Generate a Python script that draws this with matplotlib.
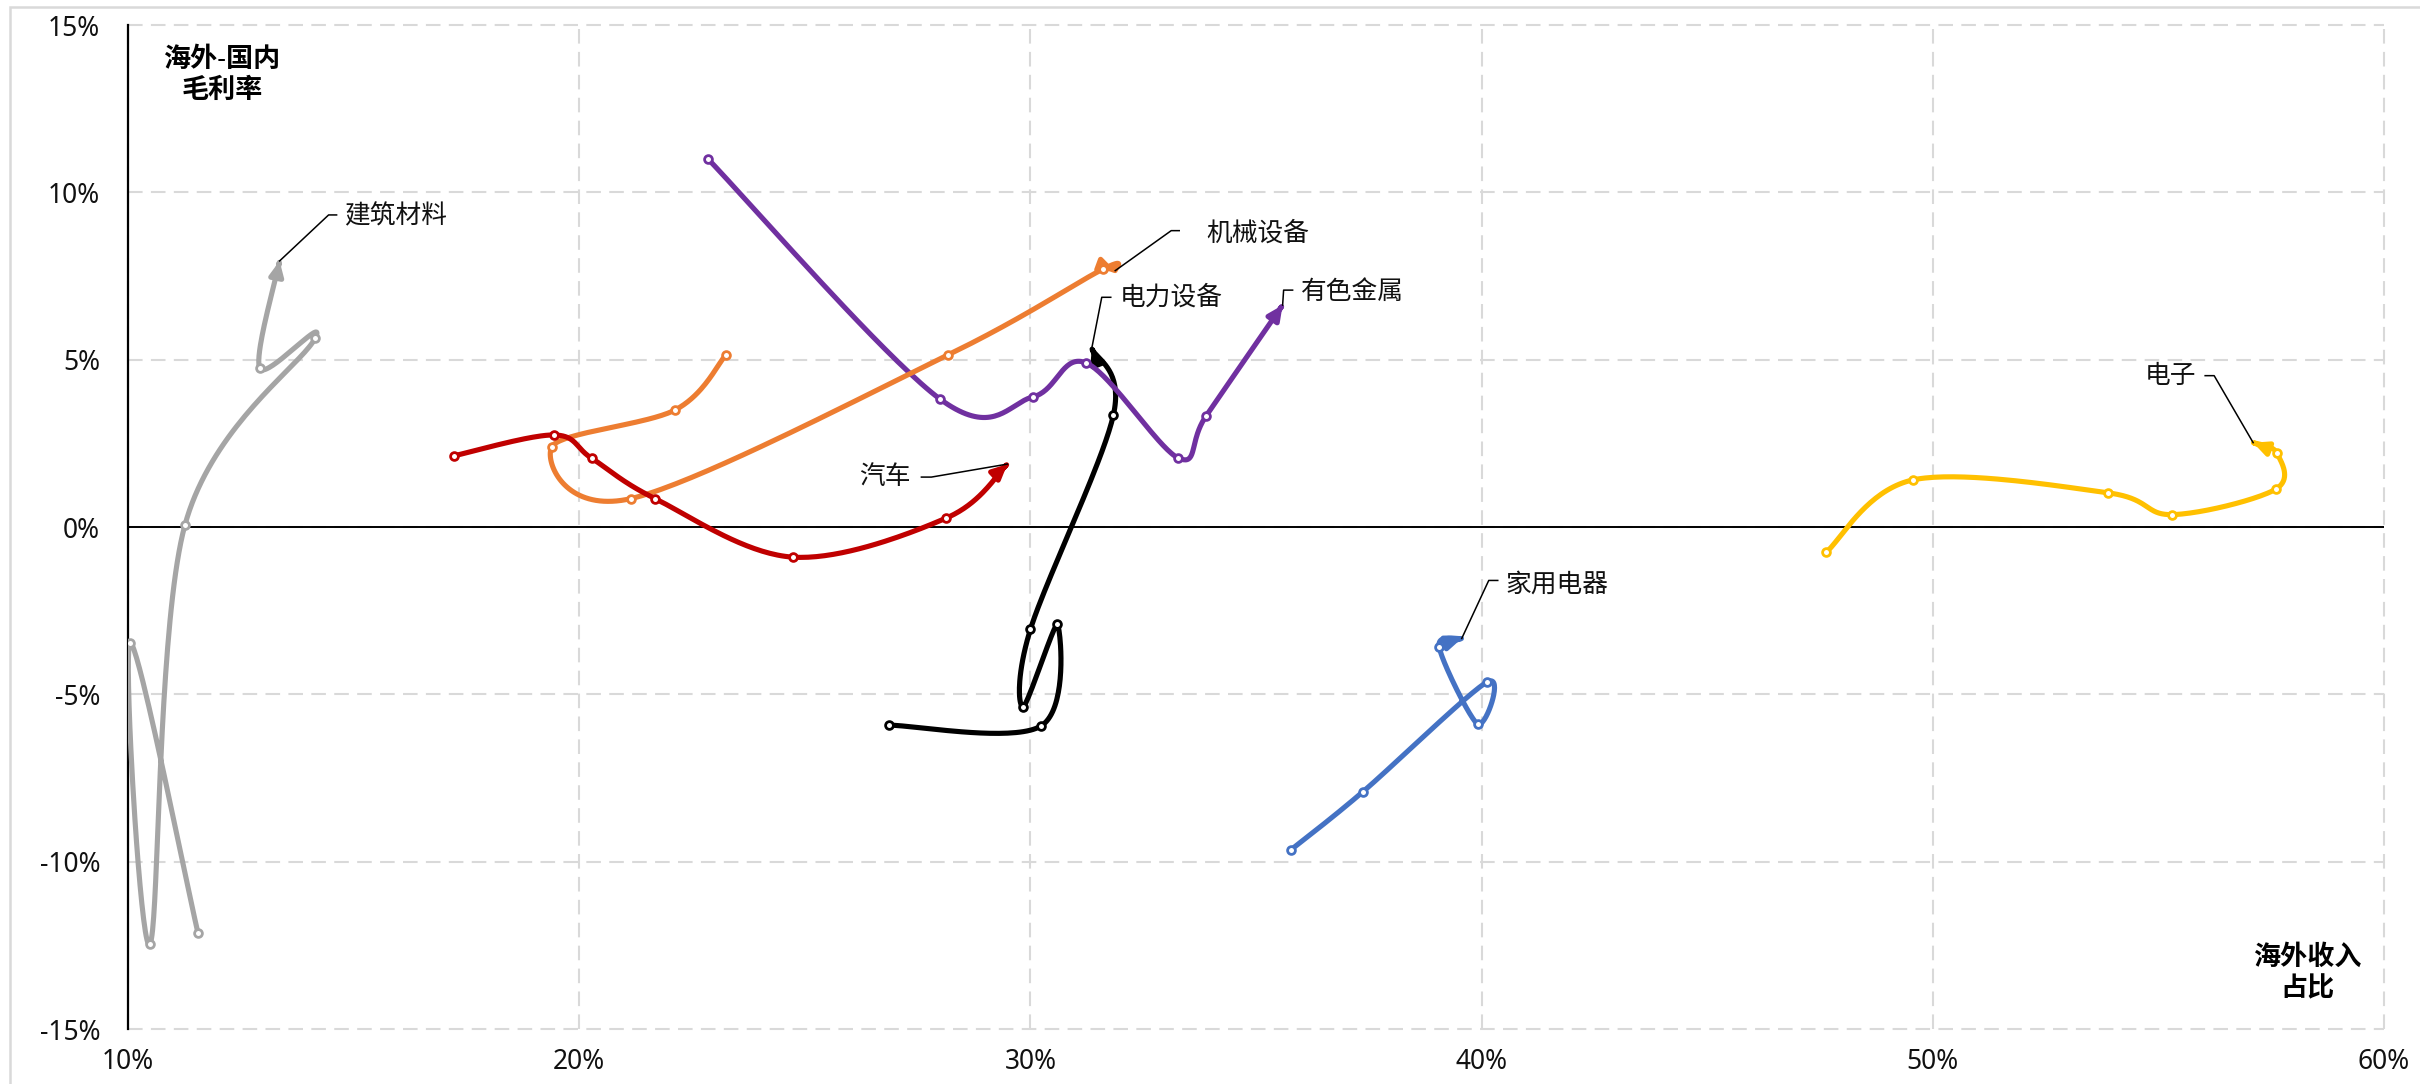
import numpy as np
import matplotlib
matplotlib.use("Agg")
import matplotlib.pyplot as plt
from matplotlib.path import Path
from matplotlib.patches import FancyArrowPatch, Rectangle
from matplotlib.lines import Line2D
from matplotlib.transforms import IdentityTransform

plt.rcParams['font.family'] = ['Noto Sans', 'Noto Sans CJK SC', 'DejaVu Sans']

# data: x = 海外收入占比 (%), y = 海外-国内毛利率 (%)
jzcl_x = [11.55, 10.05, 10.49, 11.26, 14.15, 12.92, 13.36]
jzcl_y = [-12.13, -3.46, -12.46, 0.05, 5.65, 4.74, 7.95]

dlsb_x = [26.87, 30.23, 30.60, 29.84, 30.00, 31.84, 31.36]
dlsb_y = [-5.92, -5.95, -2.91, -5.37, -3.06, 3.35, 5.34]

ysjs_x = [22.86, 28.00, 30.06, 31.24, 33.28, 33.89, 35.59]
ysjs_y = [10.99, 3.82, 3.89, 4.90, 2.06, 3.31, 6.63]

jxsb_x = [23.25, 22.13, 19.39, 21.15, 28.17, 31.60, 31.88]
jxsb_y = [5.14, 3.50, 2.39, 0.85, 5.14, 7.70, 7.66]

qc_x = [17.23, 19.44, 20.28, 21.68, 24.73, 28.14, 29.49]
qc_y = [2.13, 2.75, 2.05, 0.85, -0.90, 0.27, 1.88]

jydq_x = [35.77, 37.37, 40.11, 39.91, 39.06, 39.56]
jydq_y = [-9.65, -7.91, -4.64, -5.89, -3.59, -3.33]

dz_x = [47.64, 49.57, 53.89, 55.31, 57.60, 57.62, 57.10]
dz_y = [-0.75, 1.41, 1.02, 0.37, 1.13, 2.22, 2.52]

x_ticks = [10, 20, 30, 40, 50, 60]
y_ticks = [-15, -10, -5, 0, 5, 10, 15]

# name, x, y, colour, leader layout in px (elbow dx, elbow dy, end dx, text dx, text dy, ha)
series = [
    ('建筑材料', jzcl_x, jzcl_y, '#A5A5A5', (49, -46, 57, 64, -44, 'left')),
    ('电力设备', dlsb_x, dlsb_y, '#000000', (10, -51, 19, 28, -50, 'left')),
    ('有色金属', ysjs_x, ysjs_y, '#7030A0', (1, -15, 10, 18, -13, 'left')),
    ('机械设备', jxsb_x, jxsb_y, '#ED7D31', (56, -40, 64, 91, -37, 'left')),
    ('汽车', qc_x, qc_y, '#C00000', (-76, 13, -86, -97, 13, 'right')),
    ('家用电器', jydq_x, jydq_y, '#4472C4', (27, -58, 36, 44, -53, 'left')),
    ('电子', dz_x, dz_y, '#FFC000', (-39, -67, -48, -57, -66, 'right')),
]


def smooth(x, y, n=40):
    # catmull-rom style bezier through the points (like excel smoothed lines)
    p = np.column_stack([x, y]).astype(float)
    ext = np.vstack([p[0], p, p[-1]])
    t = np.linspace(0, 1, n)[1:, None]
    out = [p[:1]]
    for i in range(len(p) - 1):
        a, b = ext[i + 1], ext[i + 2]
        c1 = a + (ext[i + 2] - ext[i]) / 6
        c2 = b - (ext[i + 3] - ext[i + 1]) / 6
        out.append((1 - t)**3 * a + 3 * (1 - t)**2 * t * c1 + 3 * (1 - t) * t**2 * c2 + t**3 * b)
    return np.vstack(out)


fig = plt.figure(figsize=(24.2, 10.84), dpi=100)
ax = fig.add_axes([128 / 2420, 55 / 1084, 2256 / 2420, 1004 / 1084])
ax.set_xlim(10, 60)
ax.set_ylim(-15, 15)

ax.set_xticks(x_ticks)
ax.set_xticklabels([f'{v}%' for v in x_ticks])
ax.set_yticks(y_ticks)
ax.set_yticklabels([f'{v}%' for v in y_ticks])
ax.tick_params(length=0, labelsize=19, colors='#111111')
ax.tick_params(axis='y', pad=20)
ax.tick_params(axis='x', pad=14)

ax.grid(True, color='#D9D9D9', lw=1.5, ls=(0, (7, 4)), zorder=0)
ax.set_axisbelow(True)
for ln in ax.get_xgridlines() + ax.get_ygridlines():
    ln.set_clip_on(False)
for s in ['top', 'right', 'bottom']:
    ax.spines[s].set_visible(False)
ax.spines['left'].set_color('black')
ax.spines['left'].set_linewidth(1.6)
ax.spines['left'].set_zorder(1.6)
ax.axhline(0, color='black', lw=1.4, zorder=1.5)

z = 2
for name, x, y, c, lay in series:
    pts = smooth(x, y)
    path = Path(pts)
    arr = FancyArrowPatch(path=path, arrowstyle='-|>,head_length=0.42,head_width=0.2',
                          mutation_scale=20, color=c, lw=3.7, transform=ax.transData,
                          zorder=z)
    ax.add_patch(arr)
    ax.plot(x[:-1], y[:-1], 'o', ms=5.6, mfc='white', mec=c, mew=2.0, zorder=z + 0.5)
    z += 1

    # leader line and label
    ex, ey, hx, tdx, tdy, ha = lay
    tx, ty = ax.transData.transform((x[-1], y[-1]))
    ax.add_line(Line2D([tx, tx + ex, tx + hx], [ty, ty - ey, ty - ey],
                       transform=IdentityTransform(), color='black', lw=1.1, zorder=20))
    ax.text(tx + tdx, ty - tdy, name, transform=IdentityTransform(), ha=ha, va='center',
            fontsize=18.5, color='#111111', zorder=21)

ax.text(0.0417, 0.950, '海外-国内\n毛利率', transform=ax.transAxes, ha='center', va='center',
        fontsize=19.5, fontweight='bold', linespacing=1.15)
ax.text(0.966, 0.0553, '海外收入\n占比', transform=ax.transAxes, ha='center', va='center',
        fontsize=19.5, fontweight='bold', linespacing=1.15)

fig.patches.append(Rectangle((10 / 2420, -0.05), 1.1, 1 - 7 / 1084 + 0.05, transform=fig.transFigure,
                             fill=False, edgecolor='#D9D9D9', lw=1.8))

fig.savefig('out.png', dpi=100)
